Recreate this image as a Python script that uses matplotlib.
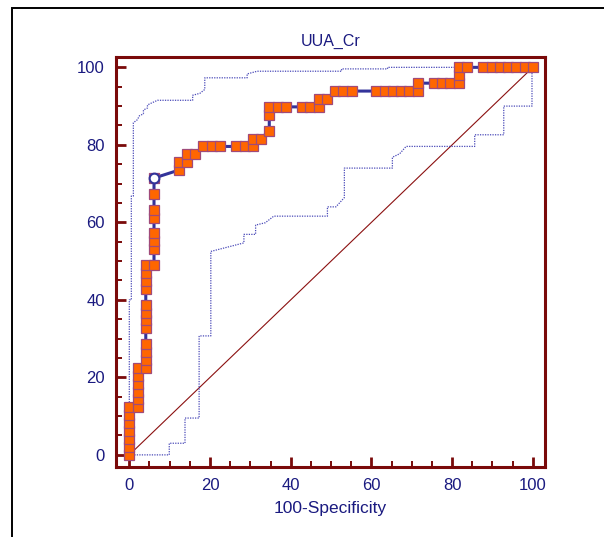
import matplotlib
matplotlib.use("Agg")
import matplotlib.pyplot as plt
from matplotlib.patches import Rectangle
from matplotlib.ticker import MultipleLocator

matplotlib.rcParams['font.family'] = ['Liberation Sans', 'DejaVu Sans']

TITLE = "UUA_Cr"
XLABEL = "100-Specificity"

# ROC curve points (100-Specificity, Sensitivity)
roc_fpr = [0, 0, 0, 0, 0, 0, 0,
           2.04, 2.04, 2.04, 2.04, 2.04, 2.04,
           4.08, 4.08, 4.08, 4.08, 4.08, 4.08, 4.08, 4.08, 4.08, 4.08, 4.08, 4.08,
           6.12, 6.12, 6.12, 6.12, 6.12, 6.12, 6.12, 6.12,
           12.24, 12.24, 14.29, 14.29, 16.33, 18.37, 20.41, 22.45, 26.53, 28.57,
           30.61, 30.61, 32.65, 34.69, 34.69, 34.69, 36.73, 38.78, 42.86, 44.90,
           46.94, 46.94, 48.98, 51.02, 53.06, 55.10, 61.22, 63.27, 65.31, 67.35,
           69.39, 71.43, 71.43, 75.51, 77.55, 79.59, 81.63, 81.63, 81.63, 83.67,
           87.76, 89.80, 91.84, 93.88, 95.92, 97.96, 100]
roc_sens = [0, 2.04, 4.08, 6.12, 8.16, 10.20, 12.24,
            12.24, 14.29, 16.33, 18.37, 20.41, 22.45,
            22.45, 24.49, 26.53, 28.57, 32.65, 34.69, 36.73, 38.78, 42.86, 44.90, 46.94, 48.98,
            48.98, 53.06, 55.10, 57.14, 61.22, 63.27, 67.35, 71.43,
            73.47, 75.51, 75.51, 77.55, 77.55, 79.59, 79.59, 79.59, 79.59, 79.59,
            79.59, 81.63, 81.63, 83.67, 87.76, 89.80, 89.80, 89.80, 89.80, 89.80,
            89.80, 91.84, 91.84, 93.88, 93.88, 93.88, 93.88, 93.88, 93.88, 93.88,
            93.88, 93.88, 95.92, 95.92, 95.92, 95.92, 95.92, 97.96, 100, 100,
            100, 100, 100, 100, 100, 100, 100]

# optimal criterion point
best_fpr = 6.12
best_sens = 71.43

# upper confidence band
upper_x = [0, 0, 0.5, 0.5, 1, 1, 2, 2.5, 3.5, 3.5, 4.5, 4.5, 5.5, 7, 15.7, 15.7,
           17.5, 18.7, 18.7, 29.2, 29.2, 31.7, 52.6, 52.6, 64, 64, 100]
upper_y = [0, 40, 40, 66.8, 66.8, 85.7, 86.5, 87.5, 88, 89, 89.5, 90.3, 90.8, 91.5,
           91.5, 92.8, 93.3, 94.3, 97.3, 97.3, 98.3, 99, 99, 99.6, 99.6, 100, 100]

# lower confidence band
lower_x = [0, 9.9, 9.9, 13.8, 13.8, 17.3, 17.3, 20.2, 20.2, 28.4, 28.4, 31.3, 31.3,
           33.7, 35.8, 49.1, 49.1, 51.2, 53.3, 53.3, 65.2, 65.2, 67, 68.6, 85.6,
           85.6, 92.8, 92.8, 99.8, 99.8, 100]
lower_y = [0, 0, 3.0, 3.0, 9.5, 9.5, 30.7, 30.7, 52.5, 54.7, 56.9, 56.9, 59.3,
           59.9, 61.6, 61.6, 64.0, 64.0, 66.4, 74.0, 74.0, 76.8, 77.7, 79.6, 79.6,
           82.6, 82.6, 90.0, 90.0, 98.7, 100]

NAVY = "#1a1a80"
MAROON = "#7a0a0a"

fig = plt.figure(figsize=(6.04, 5.37), dpi=100)
fig.patch.set_facecolor('white')
ax = fig.add_axes([116 / 604, 1 - 466.5 / 537, (544.5 - 116) / 604, (466.5 - 56.5) / 537])

# outer frame
fig.add_artist(Rectangle((12 / 604, -0.2), 1.2, 1.2 - 8 / 537, transform=fig.transFigure,
                         fill=False, edgecolor="black", linewidth=1.4))

ax.plot([0, 100], [0, 100], color="#8b1010", linewidth=0.8, zorder=2)
ax.plot(upper_x, upper_y, color="#4a4ab8", linestyle=(0, (1, 1)), linewidth=0.9, zorder=2)
ax.plot(lower_x, lower_y, color="#4a4ab8", linestyle=(0, (1, 1)), linewidth=0.9, zorder=2)

ax.plot(roc_fpr, roc_sens, color="#33339a", linewidth=2.2, zorder=3)
ax.plot(roc_fpr, roc_sens, linestyle="none", marker="s", markersize=6.6,
        markerfacecolor="#ff6600", markeredgecolor="#a04a7a", markeredgewidth=0.9, zorder=4)
ax.plot([best_fpr], [best_sens], linestyle="none", marker="o", markersize=7,
        markerfacecolor="white", markeredgecolor="#33339a", markeredgewidth=1.5, zorder=5)

ax.set_xlim(-3.3, 102.9)
ax.set_ylim(-3.0, 102.8)
ax.xaxis.set_major_locator(MultipleLocator(20))
ax.xaxis.set_minor_locator(MultipleLocator(5))
ax.yaxis.set_major_locator(MultipleLocator(20))
ax.yaxis.set_minor_locator(MultipleLocator(5))
ax.tick_params(which="major", direction="in", length=7.5, width=2, color=MAROON,
               labelcolor=NAVY, labelsize=12, pad=8)
ax.tick_params(which="minor", direction="in", length=4, width=1.4, color=MAROON)
for sp in ax.spines.values():
    sp.set_color(MAROON)
    sp.set_linewidth(2.2)

ax.set_title(TITLE, color=NAVY, fontsize=11.5, pad=8)
ax.set_xlabel(XLABEL, color=NAVY, fontsize=12.5, labelpad=6)

plt.savefig("out.png", dpi=100)
